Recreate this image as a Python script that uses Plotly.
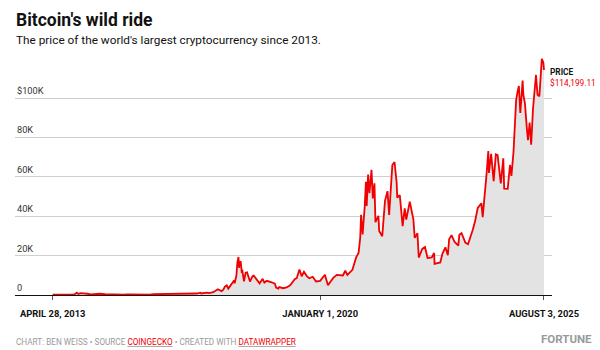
import plotly.graph_objects as go

# ---- data ----
dates = [
"2013-04-28","2013-06-01","2013-07-05","2013-08-01","2013-09-01","2013-10-01","2013-11-01","2013-11-18","2013-12-04","2013-12-18",
"2014-01-05","2014-02-01","2014-02-25","2014-03-10","2014-04-10","2014-05-01","2014-06-03","2014-07-01","2014-08-18","2014-10-05",
"2014-11-12","2014-12-31","2015-01-14","2015-02-01","2015-03-10","2015-04-15","2015-06-01","2015-07-12","2015-08-24","2015-10-01",
"2015-11-04","2015-12-15","2016-01-15","2016-03-01","2016-05-01","2016-06-16","2016-08-02","2016-10-01","2016-12-01","2017-01-04",
"2017-01-11","2017-03-01","2017-03-25","2017-05-01","2017-05-25","2017-06-12","2017-07-15","2017-08-01","2017-08-15","2017-09-01",
"2017-09-15","2017-10-01","2017-10-20","2017-11-08","2017-11-12","2017-11-28","2017-12-07","2017-12-17","2017-12-22","2017-12-27",
"2018-01-06","2018-01-16","2018-01-20","2018-02-05","2018-02-20","2018-03-05","2018-04-01","2018-04-24","2018-05-05","2018-06-28",
"2018-07-25","2018-08-10","2018-09-01","2018-10-15","2018-11-14","2018-11-25","2018-12-15","2018-12-24","2019-01-28","2019-03-01",
"2019-04-02","2019-05-14","2019-06-01","2019-06-26","2019-07-16","2019-08-06","2019-09-01","2019-09-24","2019-10-25","2019-11-24",
"2019-12-18","2020-01-01","2020-02-13","2020-03-12","2020-04-29","2020-06-01","2020-07-26","2020-08-17","2020-09-05","2020-10-21",
"2020-11-05","2020-11-24","2020-12-16","2020-12-31","2021-01-08","2021-01-22","2021-02-10","2021-02-21","2021-02-28","2021-03-13",
"2021-03-25","2021-04-13","2021-04-25","2021-05-10","2021-05-19","2021-06-15","2021-06-22","2021-07-20","2021-08-14","2021-09-06",
"2021-09-21","2021-10-20","2021-11-09","2021-11-28","2021-12-04","2021-12-27","2022-01-22","2022-02-10","2022-02-24","2022-03-28",
"2022-04-30","2022-05-12","2022-06-06","2022-06-18","2022-07-20","2022-08-14","2022-09-06","2022-10-15","2022-11-05","2022-11-09",
"2022-12-31","2023-01-20","2023-02-16","2023-03-10","2023-03-22","2023-04-13","2023-05-11","2023-06-14","2023-06-23","2023-07-13",
"2023-08-17","2023-09-10","2023-10-23","2023-11-15","2023-12-08","2024-01-10","2024-01-22","2024-02-14","2024-02-28","2024-03-13",
"2024-03-19","2024-04-08","2024-05-01","2024-05-21","2024-06-06","2024-07-05","2024-07-28","2024-08-05","2024-09-06","2024-09-27",
"2024-10-10","2024-10-29","2024-11-12","2024-11-22","2024-12-05","2024-12-17","2024-12-30","2025-01-20","2025-01-27","2025-02-10",
"2025-02-28","2025-03-10","2025-03-25","2025-04-08","2025-04-25","2025-05-22","2025-06-05","2025-06-22","2025-07-14","2025-07-28",
"2025-08-03",
]
prices = [
135,129,70,105,140,125,205,500,1150,520,
950,830,530,630,360,450,660,640,480,320,
430,315,175,225,290,220,225,310,210,237,
400,460,380,430,450,760,520,615,750,1150,
780,1200,930,1420,2400,2950,1950,2720,4300,4900,
3230,4400,6000,7460,5950,9900,16600,19300,13800,16000,
17150,11200,12900,6900,11300,11500,6800,9600,9850,5900,
8200,6300,7200,6450,5700,3800,3250,4000,3450,3830,
4900,8000,8550,12900,9500,11800,9600,8500,9250,6900,
7100,7200,10300,4950,8700,10200,9900,12300,10200,12800,
15600,19100,21300,29000,40700,30800,44800,57500,45200,61200,
51700,63500,49000,56700,37000,40200,32500,29800,47800,52700,
40700,66000,67500,57200,49400,50700,35000,44000,38300,47400,
38400,29000,31300,19000,23400,24400,18800,19100,21300,15800,
16550,21000,24200,20200,28300,30400,26900,25100,30600,31400,
26600,25800,33000,37800,44200,46600,39500,51800,62500,73100,
62000,71600,57800,71400,71000,56700,69400,54000,53900,66000,
60500,72700,88500,98900,103200,106100,92400,108800,101500,97400,
84300,78600,87500,76300,94700,111700,101600,100900,119900,118000,
114199.11,
]

x_tickvals = ["2013-04-28", "2020-01-01", "2025-08-03"]
x_ticktext = ["APRIL 28, 2013", "JANUARY 1, 2020", "AUGUST 3, 2025"]
y_tickvals = [0, 20000, 40000, 60000, 80000, 100000]
y_ticktext = ["0", "20K", "40K", "60K", "80K", "$100K"]

title = "Bitcoin's wild ride"
subtitle = "The price of the world's largest cryptocurrency since 2013."
last_label = "$114,199.11"

FONT = "Roboto, sans-serif"
RED = "#f00000"

W, H = 600, 350
M = dict(l=15, r=48, t=50, b=55)
plot_h = H - M["t"] - M["b"]
plot_w = W - M["l"] - M["r"]

def py(pix_from_top):
    return (H - M["b"] - pix_from_top) / plot_h

def px(pix_from_left):
    return (pix_from_left - M["l"]) / plot_w

fig = go.Figure()
fig.add_trace(go.Scatter(
    x=dates, y=prices, mode="lines",
    line=dict(color=RED, width=1.8),
    fill="tozeroy", fillcolor="#e3e3e3",
    hoverinfo="skip",
))

fig.update_layout(
    width=W, height=H,
    margin=M,
    paper_bgcolor="white", plot_bgcolor="white",
    showlegend=False,
    xaxis=dict(
        range=["2012-05-19", "2025-10-15"],
        tickvals=x_tickvals, ticktext=x_ticktext,
        tickfont=dict(family=FONT, size=9.4, color="#111", weight="bold"),
        ticks="outside", ticklen=4, tickcolor="#555", tickwidth=1,
        ticklabelstandoff=6,
        showline=True, linecolor="#111", linewidth=1.2,
        showgrid=False, zeroline=False,
    ),
    yaxis=dict(
        range=[0, 124365],
        tickvals=y_tickvals, showticklabels=False,
        showgrid=True, gridcolor="#cfcfcf", gridwidth=1,
        zeroline=False, showline=False,
    ),
)

for v, t in zip(y_tickvals, y_ticktext):
    fig.add_annotation(x=0, xref="paper", y=v, yref="y", text=t,
                       xanchor="left", yanchor="bottom", showarrow=False,
                       font=dict(family=FONT, size=9.2, color="#333"))

fig.add_annotation(x=dates[-1], y=prices[-1], xref="x", yref="y",
                   text="<b>PRICE</b><br><span style='color:%s'>%s</span>" % (RED, last_label),
                   xanchor="left", yanchor="middle", align="left", showarrow=False,
                   xshift=4, yshift=-7,
                   font=dict(family=FONT, size=8.3, color="#111"))

fig.add_annotation(x=px(14), xref="paper", y=py(20), yref="paper", text="<b>" + title + "</b>",
                   showarrow=False, xanchor="left", yanchor="middle",
                   font=dict(family=FONT, size=17.5, color="#111", weight=900))

fig.add_annotation(x=px(14), xref="paper", y=py(40), yref="paper", text=subtitle,
                   showarrow=False, xanchor="left", yanchor="middle",
                   font=dict(family=FONT, size=11.8, color="#111"))

fig.add_annotation(x=px(14), xref="paper", y=py(342), yref="paper",
                   text="CHART: BEN WEISS \u2022 SOURCE <u><span style='color:%s'>COINGECKO</span></u> \u2022 CREATED WITH <u><span style='color:%s'>DATAWRAPPER</span></u>" % (RED, RED),
                   showarrow=False, xanchor="left", yanchor="middle",
                   font=dict(family=FONT, size=8.2, color="#9a9a9a"))

fig.add_annotation(x=px(594), xref="paper", y=py(339), yref="paper", text="<b>FORTUNE</b>",
                   showarrow=False, xanchor="right", yanchor="middle",
                   font=dict(family=FONT, size=11.5, color="#9a9a9a"))

fig.write_html("out.html")
